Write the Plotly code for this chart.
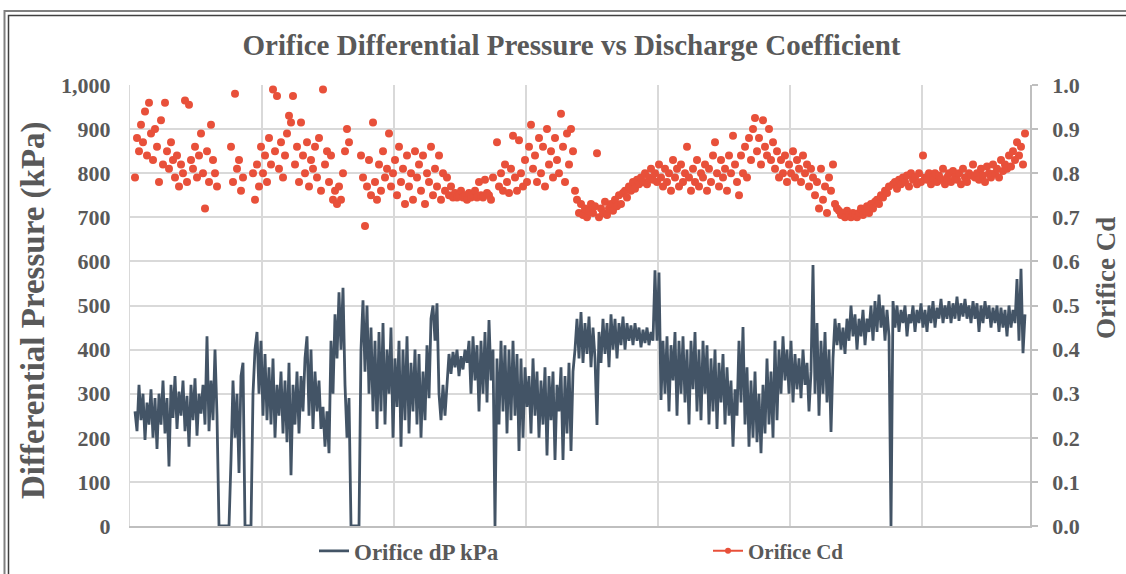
import plotly.graph_objects as go

# Orifice differential pressure (kPa), one value per sample index
dp_kpa = [
    260, 215, 320, 240, 300, 195, 280, 230, 310, 200, 290, 175, 300, 230, 330, 210, 290, 135, 320, 245,
    340, 220, 305, 250, 330, 215, 295, 180, 320, 240, 335, 205, 300, 255, 320, 230, 430, 215, 330, 240,
    400, 250,
    0, 0, 0, 0, 0, 0,
    150, 330, 200, 300, 120, 340, 370,
    0, 0, 0, 0,
    300, 400, 440, 300, 420, 250, 390, 240, 360, 230, 380, 200, 320, 250, 350, 210, 330, 190, 370, 115,
    320, 230, 350, 210, 340, 260, 380, 430, 250, 400, 220, 350, 260, 330, 220, 270, 180, 260, 165,
    420, 300, 480, 380, 530, 400, 540, 320, 200,
    290,
    0, 0, 0, 0, 0,
    400, 512, 350, 500, 300,
    450, 260, 420, 220, 440, 260, 460, 230, 400, 300, 450, 200, 380, 270, 420, 180, 400, 240, 430, 210,
    370, 260, 400, 230, 390, 200, 350, 240, 410, 290, 470, 500, 420, 505, 300, 240, 320, 250, 330,
    390, 345, 395, 360, 400, 340, 385, 355, 400, 370,
    420, 300, 430, 330, 410, 260, 420, 300, 440, 280, 467, 330, 400, 0, 380, 230, 420, 260, 410, 210,
    400, 240, 420, 250, 390, 170, 380, 200, 360, 270,
    340, 210, 380, 250, 350, 200, 330, 230, 360, 160, 340, 240, 350, 150, 320, 260, 360, 150, 340, 210,
    370, 170, 350,
    400, 470, 380, 485, 370, 460, 390, 475, 360, 450, 380, 229, 440, 370, 470, 390, 460, 360, 480, 400,
    470, 380, 460, 410, 475, 400, 460, 420, 455, 410, 460, 420, 450, 405, 445, 415, 450, 410, 440, 420,
    580, 420, 575, 286,
    420, 300, 430, 260, 410, 330, 440, 250, 420, 300, 430, 280, 400, 230, 420, 310, 440, 260, 400, 240,
    420, 300, 410, 230, 380, 260, 400, 220, 370, 280, 390, 230, 360, 250, 330, 180,
    310, 250, 420, 280, 451, 230, 360, 180, 330, 200, 350, 190, 300, 165, 320, 210, 380, 230, 350, 200,
    420, 240, 400, 300, 430,
    330, 400, 300, 420, 280, 390, 310, 380, 290, 400, 320, 370, 260, 350,
    592, 300, 460, 250, 420, 300, 440, 280, 400, 213, 380,
    470, 410, 460, 400, 450, 390, 470, 420, 500, 430, 480, 400, 470, 430, 490, 410, 470, 440, 500, 420,
    510, 440, 525, 450, 500, 420, 490, 430,
    0,
    510, 450, 500, 440, 490, 460, 500, 430, 480, 460, 500, 440, 490, 460, 505, 450, 490, 440, 500, 460,
    510, 450, 495, 470, 515, 460, 500, 470, 510, 460, 505, 470, 520, 465, 505, 475, 515, 470, 500, 460,
    510, 470, 505, 440, 500, 460, 510, 470, 500, 450, 495, 460, 500, 440, 495, 450, 490, 430, 500, 450,
    490, 460,
    560, 420, 583, 392, 480,
]

# Orifice discharge coefficient, same sample index (None where dP is zero)
orifice_cd = [
    0.79, 0.88, 0.85, 0.91, 0.87, 0.94, 0.84, 0.96, 0.89, 0.83,
    0.90, 0.86, 0.78, 0.92, 0.82, 0.96, 0.85, 0.81, 0.87, 0.83,
    0.79, 0.84, 0.77, 0.82, 0.80, 0.965, 0.78, 0.955, 0.83, 0.81,
    0.86, 0.79, 0.84, 0.89, 0.80, 0.72, 0.85, 0.78, 0.91, 0.83,
    0.80, 0.77, None, None, None, None, None, None, 0.86, 0.78,
    0.98, 0.81, 0.83, 0.76, 0.79, None, None, None, None, 0.80,
    0.74, 0.82, 0.77, 0.86, 0.80, 0.84, 0.78, 0.88, 0.82, 0.99,
    0.85, 0.975, 0.81, 0.87, 0.79, 0.84, 0.89, 0.93, 0.915, 0.975,
    0.82, 0.86, 0.78, 0.915, 0.84, 0.80, 0.87, 0.77, 0.83, 0.81,
    0.86, 0.79, 0.88, 0.76, 0.99, 0.82, 0.85, 0.78, 0.84, 0.74,
    0.76, 0.73, 0.77, 0.74, 0.80, 0.85, 0.90, 0.87, None, None,
    None, None, None, 0.84, 0.79, 0.68, 0.77, 0.83, 0.75, 0.915,
    0.78, 0.74, 0.82, 0.76, 0.85, 0.79, 0.81, 0.89, 0.77, 0.80,
    0.83, 0.75, 0.86, 0.78, 0.81, 0.73, 0.84, 0.77, 0.80, 0.74,
    0.85, 0.79, 0.82, 0.76, 0.84, 0.73, 0.80, 0.78, 0.86, 0.75,
    0.81, 0.77, 0.84, 0.74, 0.80, 0.76, 0.79, 0.75, 0.77, 0.745,
    0.755, 0.745, 0.75, 0.76, 0.745, 0.75, 0.74, 0.755, 0.745, 0.75,
    0.76, 0.745, 0.78, 0.75, 0.745, 0.785, 0.755, 0.75, 0.74, 0.79,
    None, 0.87, 0.77, 0.80, 0.76, 0.82, 0.78, 0.755, 0.81, 0.885,
    0.79, 0.76, 0.875, 0.80, 0.77, 0.83, 0.78, 0.86, 0.91, 0.81,
    0.84, 0.78, 0.88, 0.80, 0.86, 0.77, 0.90, 0.82, 0.85, 0.79,
    0.88, 0.83, 0.80, 0.935, 0.86, 0.78, 0.89, 0.82, 0.90, 0.85,
    0.76, 0.74, 0.71, 0.73, 0.705, 0.72, 0.70, 0.715, 0.73, 0.71,
    0.725, 0.845, 0.70, 0.72, 0.71, 0.735, 0.705, 0.72, 0.73, 0.715,
    0.74, 0.725, 0.75, 0.73, 0.755, 0.76, 0.745, 0.77, 0.76, 0.78,
    0.765, 0.785, 0.775, 0.79, 0.78, 0.80, 0.775, 0.79, 0.81, 0.785,
    0.80, 0.78, 0.82, 0.79, 0.77, 0.81, 0.78, 0.80, 0.76, 0.83,
    0.79, 0.81, 0.77, 0.82, 0.78, 0.80, 0.86, 0.79, 0.76, 0.81,
    0.78, 0.83, 0.77, 0.80, 0.79, 0.82, 0.76, 0.81, 0.78, 0.84,
    0.87, 0.80, 0.77, 0.83, 0.79, 0.81, 0.76, 0.84, 0.80, 0.885,
    0.82, 0.78, 0.75, 0.84, 0.80, 0.86, 0.79, 0.88, 0.83, 0.90,
    0.925, 0.85, 0.88, 0.82, 0.92, 0.86, 0.84, 0.90, 0.83, 0.87,
    0.81, 0.85, 0.79, 0.83, 0.80, 0.84, 0.78, 0.82, 0.80, 0.85,
    0.79, 0.83, 0.81, 0.78, 0.84, 0.80, 0.82, 0.77, 0.81, 0.79,
    0.75, 0.78, 0.72, 0.81, 0.74, 0.77, 0.71, 0.79, 0.76, 0.82,
    0.73, 0.72, 0.715, 0.705, 0.71, 0.70, 0.715, 0.705, 0.70, 0.71,
    0.705, 0.70, 0.71, 0.72, 0.705, 0.715, 0.725, 0.71, 0.73, 0.72,
    0.735, 0.74, 0.73, 0.75, 0.745, 0.76, 0.755, 0.77, None, 0.775,
    0.78, 0.765, 0.785, 0.775, 0.79, 0.78, 0.795, 0.77, 0.80, 0.785,
    0.79, 0.775, 0.80, 0.78, 0.84, 0.79, 0.785, 0.80, 0.775, 0.79,
    0.80, 0.78, 0.795, 0.785, 0.81, 0.775, 0.79, 0.80, 0.78, 0.805,
    0.79, 0.785, 0.80, 0.775, 0.81, 0.79, 0.78, 0.80, 0.795, 0.82,
    0.79, 0.80, 0.785, 0.81, 0.795, 0.78, 0.815, 0.80, 0.79, 0.82,
    0.80, 0.81, 0.79, 0.83, 0.805, 0.82, 0.81, 0.84, 0.815, 0.85,
    0.83, 0.87, 0.84, 0.86, 0.82, 0.89,
]

sample_index = list(range(len(dp_kpa)))

FONT = "Liberation Serif, Times New Roman, serif"
GREY = "#595959"
DP_COLOR = "#435466"
CD_COLOR = "#E8503A"

# plot-area geometry in pixels
L, R, T, B = 130, 1030, 85, 526
W, H = 1126, 574


def px(x):
    return (x - L) / (R - L)


def py(y):
    return (B - y) / (B - T)


def bold(size):
    return dict(size=size, family=FONT, color=GREY, weight="bold")


fig = go.Figure()
fig.add_trace(go.Scatter(
    x=sample_index, y=dp_kpa, mode="lines", name="Orifice dP kPa",
    line=dict(color=DP_COLOR, width=2.8), yaxis="y", legend="legend",
))
fig.add_trace(go.Scatter(
    x=sample_index[:len(orifice_cd)], y=orifice_cd, mode="markers", name="Orifice Cd",
    marker=dict(color=CD_COLOR, size=8), yaxis="y2", showlegend=False,
))
fig.add_trace(go.Scatter(
    x=[None], y=[None], mode="lines+markers", name="Orifice Cd",
    line=dict(color=CD_COLOR, width=2), marker=dict(color=CD_COLOR, size=6), yaxis="y2",
    legend="legend2",
))

fig.update_layout(
    width=W, height=H,
    margin=dict(l=L, r=W - R, t=T, b=H - B, pad=0, autoexpand=False),
    paper_bgcolor="white", plot_bgcolor="white",
    font=dict(family=FONT, color=GREY),
    title=dict(
        text="Orifice Differential Pressure vs Discharge Coefficient",
        x=(243 + 900) / 2 / W, xanchor="center", y=1 - 45 / H, yanchor="middle",
        font=bold(29),
    ),
    xaxis=dict(
        range=[-2.5, 447.5], showticklabels=False, ticks="",
        showgrid=True, gridcolor="#D9D9D9", gridwidth=1.5,
        tick0=63.5, dtick=66, showline=True, linecolor="#BFBFBF", linewidth=1.5,
        zeroline=False, automargin=False,
    ),
    yaxis=dict(
        range=[0, 1000], dtick=100, tickformat=",", showgrid=True, gridcolor="#D9D9D9",
        gridwidth=1.5, zeroline=False, showline=True, linecolor="#D9D9D9",
        tickfont=bold(22), ticks="", ticklabelstandoff=14, automargin=False,
    ),
    yaxis2=dict(
        range=[0, 1], dtick=0.1, tickformat=".1f", overlaying="y", side="right",
        showgrid=False, zeroline=False, showline=True, linecolor="#BFBFBF", linewidth=1.5,
        ticks="outside", ticklen=6, tickcolor="#BFBFBF", tickwidth=1.5,
        tickfont=bold(22), ticklabelstandoff=10, automargin=False,
    ),
    legend=dict(
        orientation="h", x=px(314), xanchor="left", y=py(551), yanchor="middle",
        font=bold(23), bgcolor="rgba(0,0,0,0)",
    ),
    legend2=dict(
        orientation="h", x=px(708), xanchor="left", y=py(551), yanchor="middle",
        font=bold(21), bgcolor="rgba(0,0,0,0)",
    ),
    showlegend=True,
    annotations=[
        dict(text="Differential Pressure (kPa)", textangle=-90, xref="paper", yref="paper",
             x=px(33), y=py(310), xanchor="center", yanchor="middle", showarrow=False,
             font=bold(33)),
        dict(text="Orifice Cd", textangle=-90, xref="paper", yref="paper",
             x=px(1106), y=py(278), xanchor="center", yanchor="middle", showarrow=False,
             font=bold(27)),
    ],
    shapes=[
        dict(type="rect", xref="paper", yref="paper", x0=px(4.5), y0=py(600), x1=px(1140), y1=py(11),
             line=dict(color="#808080", width=2), fillcolor="rgba(0,0,0,0)", layer="below"),
        dict(type="rect", xref="paper", yref="paper", x0=px(8.5), y0=py(595), x1=px(1136), y1=py(15.5),
             line=dict(color="#404040", width=1.5), fillcolor="rgba(0,0,0,0)", layer="below"),
    ],
)

fig.write_html("out.html", config={"displayModeBar": False},
               post_script="document.body.style.margin='0px';")
